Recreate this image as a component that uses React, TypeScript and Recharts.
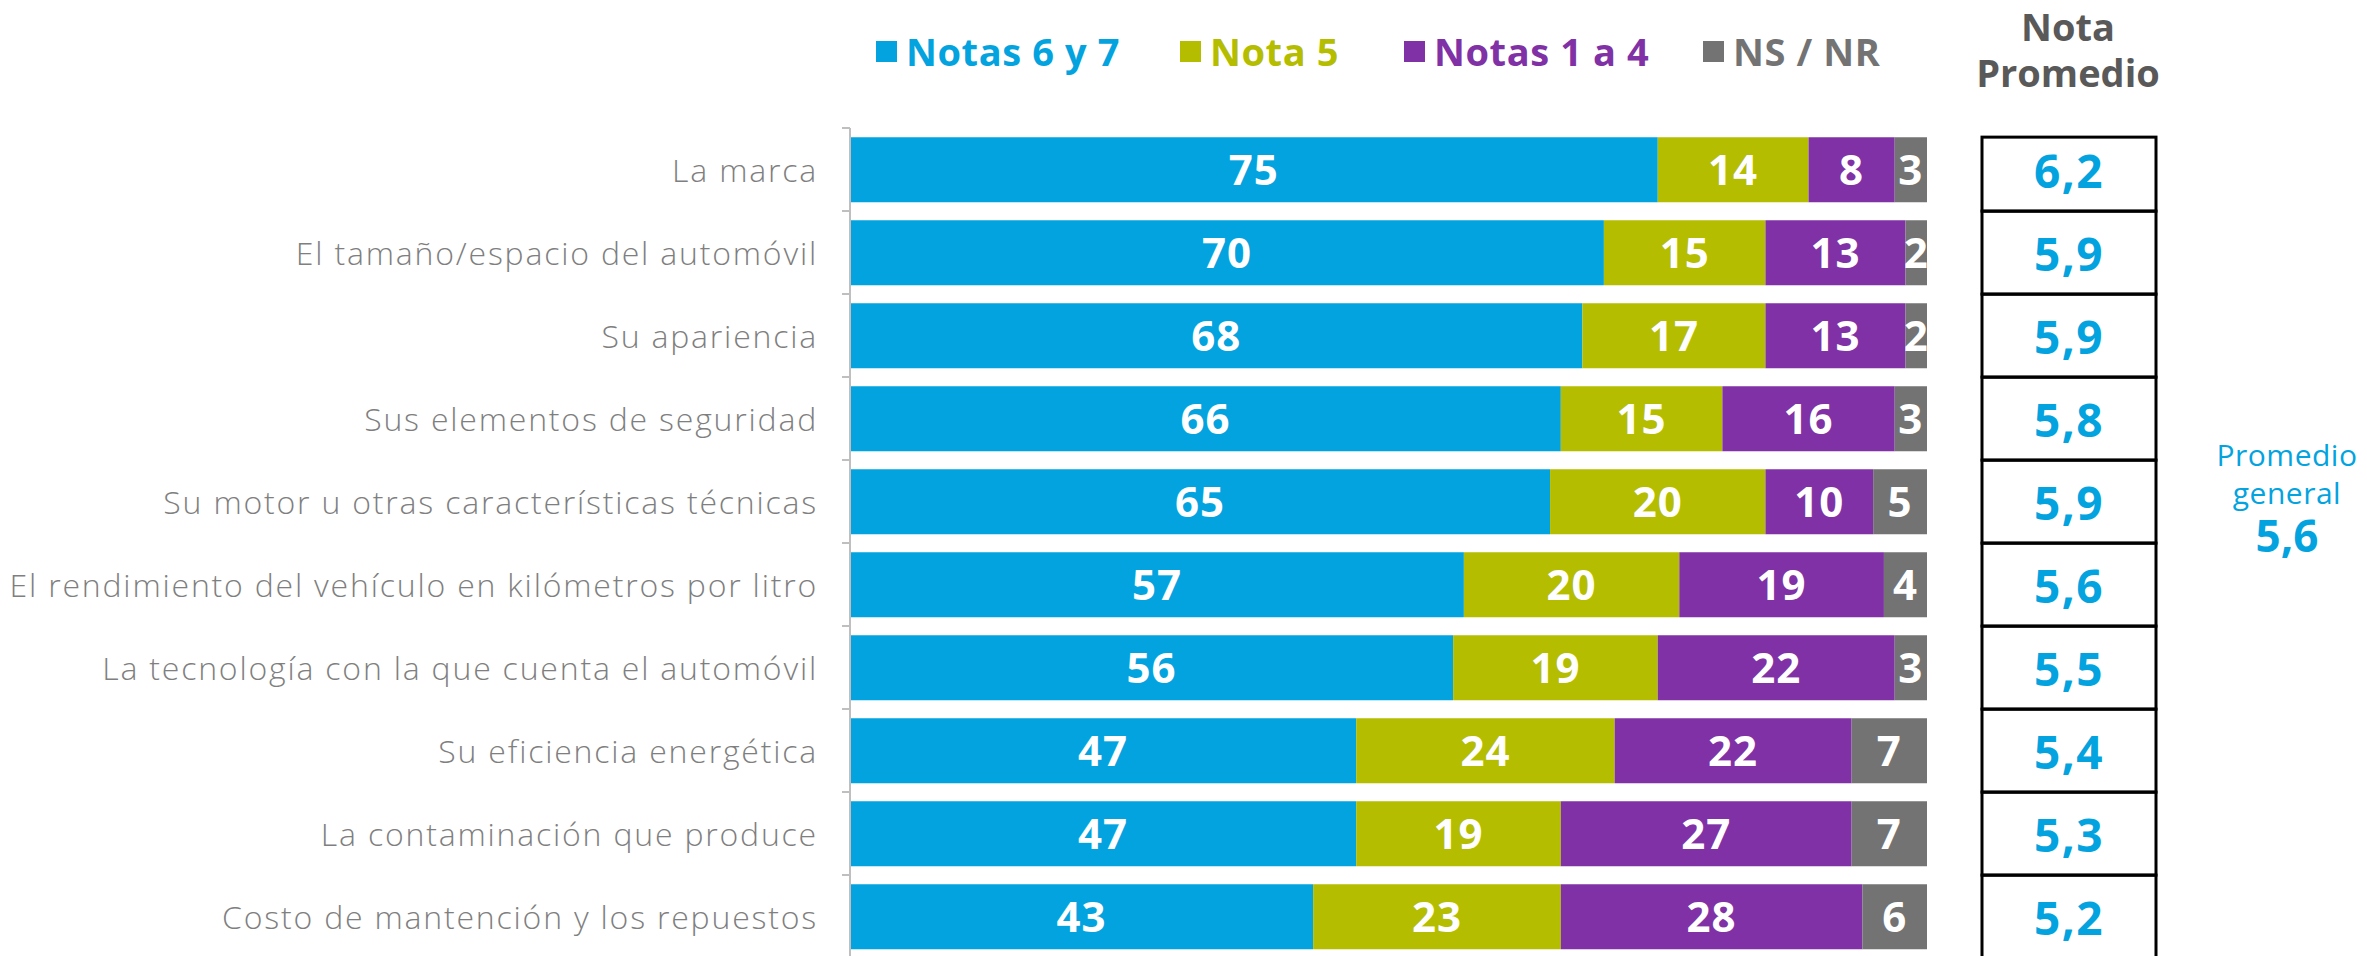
import React from 'react';
import { BarChart, Bar, XAxis, YAxis, LabelList } from 'recharts';

const categories = [
  'La marca',
  'El tamaño/espacio del automóvil',
  'Su apariencia',
  'Sus elementos de seguridad',
  'Su motor u otras características técnicas',
  'El rendimiento del vehículo en kilómetros por litro',
  'La tecnología con la que cuenta el automóvil',
  'Su eficiencia energética',
  'La contaminación que produce',
  'Costo de mantención y los repuestos',
];
const notas67 = [75, 70, 68, 66, 65, 57, 56, 47, 47, 43];
const nota5 = [14, 15, 17, 15, 20, 20, 19, 24, 19, 23];
const notas14 = [8, 13, 13, 16, 10, 19, 22, 22, 27, 28];
const nsnr = [3, 2, 2, 3, 5, 4, 3, 7, 7, 6];
const promedios = ['6,2', '5,9', '5,9', '5,8', '5,9', '5,6', '5,5', '5,4', '5,3', '5,2'];
const promedioGeneral = '5,6';

const seriesNames = ['Notas 6 y 7', 'Nota 5', 'Notas 1 a 4', 'NS / NR'];
const seriesKeys = ['n67', 'n5', 'n14', 'ns'];
const seriesColors = ['#03A3E0', '#B5BD00', '#7F31A5', '#737373'];

const data = categories.map((name, i) => ({
  name,
  n67: notas67[i],
  n5: nota5[i],
  n14: notas14[i],
  ns: nsnr[i],
  avg: promedios[i],
}));

const FONT = '"Open Sans", "Noto Sans", sans-serif';
const W = 2367;
const H = 958;
const M = { top: 128, right: 440, bottom: 0, left: 0 };
const YAXIS_W = 850;
const AXIS_X = M.left + YAXIS_W;
const BAND = (H - M.top - M.bottom) / categories.length;
const BOX_X = 1982;
const BOX_W = 174;

const YTick = (props: any) => {
  const { y, payload, index } = props;
  const half = BAND / 2;
  return (
    <g>
      <text
        x={AXIS_X - 32}
        y={y}
        textAnchor="end"
        dominantBaseline="central"
        fontFamily={FONT}
        fontWeight={300}
        fontSize={32}
        letterSpacing={1.8}
        fill="#7F7F7F"
      >
        {payload.value}
      </text>
      <line x1={AXIS_X - 8} x2={AXIS_X} y1={y - half} y2={y - half} stroke="#BFBFBF" strokeWidth={2} />
      {index === categories.length - 1 ? (
        <line x1={AXIS_X - 8} x2={AXIS_X} y1={y + half} y2={y + half} stroke="#BFBFBF" strokeWidth={2} />
      ) : null}
    </g>
  );
};

const AvgBox = (props: any) => {
  const vb = props.viewBox || props;
  const y = vb.y;
  const height = vb.height;
  const index = props.index;
  const value = props.value ?? promedios[index];
  const gap = (BAND - height) / 2;
  const top = index === 0 ? y : y - gap;
  const bottom = y + height + gap;
  return (
    <g>
      <rect x={BOX_X} y={top} width={BOX_W} height={bottom - top} fill="none" stroke="#000" strokeWidth={3} />
      <text
        x={BOX_X + BOX_W / 2}
        y={y + height / 2}
        textAnchor="middle"
        dominantBaseline="central"
        fontFamily={FONT}
        fontWeight={700}
        fontSize={46}
        letterSpacing={1.5}
        fill="#03A3E0"
      >
        {value}
      </text>
    </g>
  );
};

const legendLefts = [876, 1180, 1404, 1703];

const LegendBlock = () => (
  <div style={{ position: 'absolute', left: 0, top: 26, width: W, height: 50 }}>
    {seriesNames.map((n, i) => (
      <div
        key={n}
        style={{
          position: 'absolute',
          left: legendLefts[i],
          top: 0,
          display: 'flex',
          alignItems: 'center',
          fontFamily: FONT,
          fontWeight: 700,
          fontSize: 38,
          letterSpacing: 0.6,
          color: seriesColors[i],
          whiteSpace: 'nowrap',
          lineHeight: '50px',
        }}
      >
        <span style={{ display: 'inline-block', width: 21, height: 21, background: seriesColors[i], marginRight: 9 }} />
        {n}
      </div>
    ))}
  </div>
);

export default function App() {
  return (
    <div style={{ position: 'absolute', left: 0, top: 0, width: W, height: 956, overflow: 'hidden', background: '#fff' }}>
      <BarChart width={W} height={H} data={data} layout="vertical" margin={M} barCategoryGap="11%">
        <XAxis type="number" domain={[0, 100]} hide />
        <YAxis
          type="category"
          dataKey="name"
          width={YAXIS_W}
          tick={<YTick />}
          tickLine={false}
          axisLine={{ stroke: '#BFBFBF', strokeWidth: 2 }}
          interval={0}
        />
        {seriesKeys.map((k, i) => (
          <Bar key={k} dataKey={k} stackId="a" fill={seriesColors[i]} name={seriesNames[i]} isAnimationActive={false}>
            <LabelList
              dataKey={k}
              position="center"
              fill="#FFFFFF"
              fontFamily={FONT}
              fontWeight={700}
              fontSize={42}
              letterSpacing={1}
            />
            {k === 'ns' ? <LabelList dataKey="avg" content={<AvgBox />} /> : null}
          </Bar>
        ))}
      </BarChart>
      <LegendBlock />
      <div
        style={{
          position: 'absolute',
          left: 1968,
          top: 3,
          width: 200,
          textAlign: 'center',
          fontFamily: FONT,
          fontWeight: 700,
          fontSize: 38,
          lineHeight: '46px',
          color: '#595959',
        }}
      >
        Nota
        <br />
        Promedio
      </div>
      <div
        style={{
          position: 'absolute',
          left: 2192,
          top: 436,
          width: 190,
          textAlign: 'center',
          fontFamily: FONT,
          color: '#03A3E0',
        }}
      >
        <div style={{ fontSize: 30, lineHeight: '38px', letterSpacing: 0.5 }}>Promedio</div>
        <div style={{ fontSize: 30, lineHeight: '38px', letterSpacing: 0.5 }}>general</div>
        <div style={{ fontSize: 44, fontWeight: 700, lineHeight: '46px' }}>{promedioGeneral}</div>
      </div>
    </div>
  );
}
